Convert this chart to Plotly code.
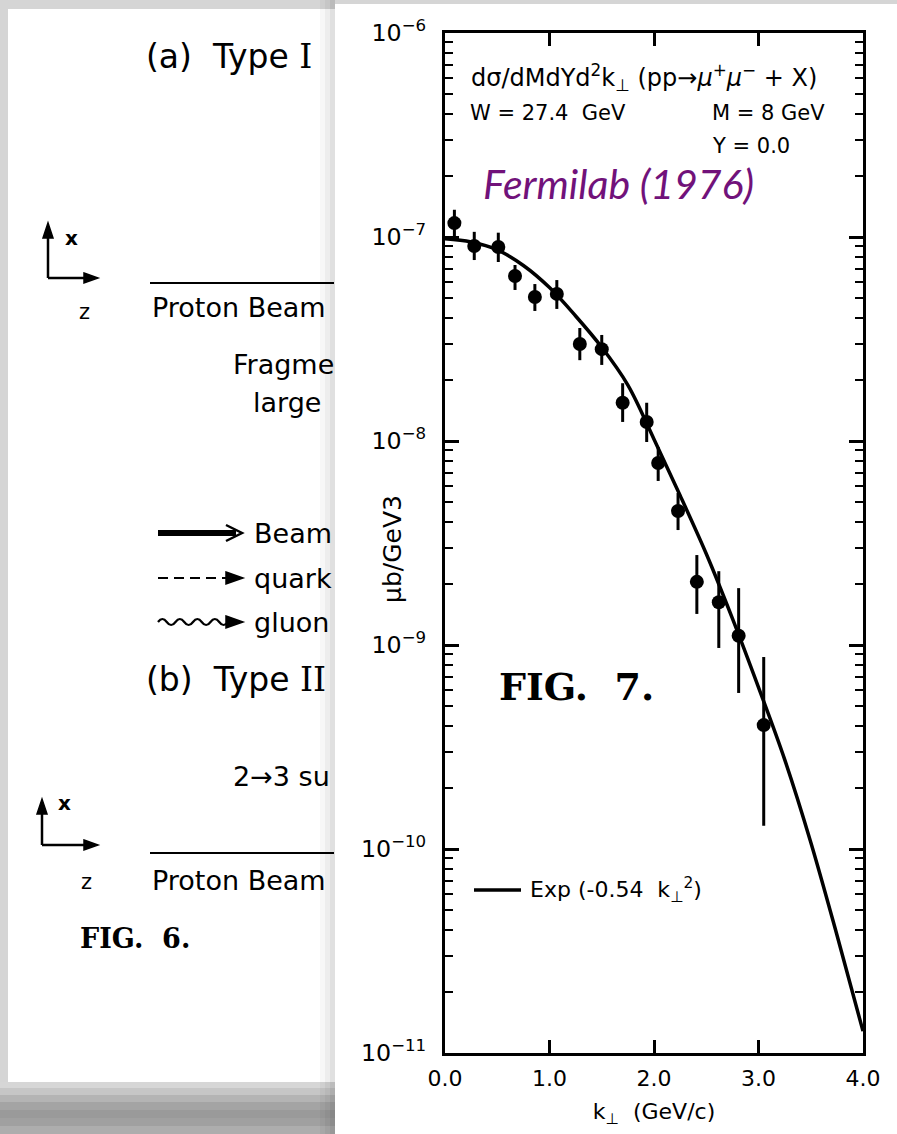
import plotly.graph_objects as go

# ---------------- data ----------------
k_data = [0.09, 0.28, 0.51, 0.67, 0.86, 1.07, 1.29, 1.50, 1.70, 1.93, 2.04, 2.23, 2.41, 2.62, 2.81, 3.05]
sigma = [1.17e-7, 9.03e-8, 8.93e-8, 6.44e-8, 5.08e-8, 5.26e-8, 2.99e-8, 2.82e-8,
         1.54e-8, 1.24e-8, 7.80e-9, 4.54e-9, 2.04e-9, 1.62e-9, 1.11e-9, 4.05e-10]
sigma_hi = [1.36e-7, 1.06e-7, 1.05e-7, 7.29e-8, 5.88e-8, 6.15e-8, 3.58e-8, 3.31e-8,
            1.92e-8, 1.54e-8, 9.35e-9, 5.56e-9, 2.76e-9, 2.30e-9, 1.90e-9, 8.73e-10]
sigma_lo = [1.01e-7, 7.71e-8, 7.54e-8, 5.50e-8, 4.34e-8, 4.44e-8, 2.49e-8, 2.36e-8,
            1.24e-8, 9.89e-9, 6.37e-9, 3.66e-9, 1.42e-9, 9.67e-10, 5.82e-10, 1.30e-10]

k_fit = [0.0, 0.25, 0.5, 0.75, 1.0, 1.25, 1.5, 1.75, 2.0, 2.25, 2.5, 2.75, 3.0, 3.25, 3.5, 3.75, 4.0]
fit = [9.8e-8, 9.45e-8, 8.65e-8, 7.25e-8, 5.65e-8, 4.1e-8, 2.88e-8, 1.88e-8, 1.02e-8,
       5.4e-9, 2.8e-9, 1.35e-9, 6.2e-10, 2.75e-10, 1.08e-10, 3.8e-11, 1.28e-11]

x_ticks = [0, 1, 2, 3, 4]
x_ticktext = ["0.0", "1.0", "2.0", "3.0", "4.0"]

# ---------------- geometry helpers (pixel -> paper) ----------------
W, H = 897, 1134
L, R, T, B = 445, 863, 33, 1053


def X(px):
    return (px - L) / (R - L)


def Y(py):
    return (B - py) / (B - T)


FONT = "DejaVu Sans"
err_plus = [h - v for h, v in zip(sigma_hi, sigma)]
err_minus = [v - l for v, l in zip(sigma, sigma_lo)]

fig = go.Figure()
fig.add_trace(go.Scatter(
    x=k_fit, y=fit, mode="lines", line=dict(color="black", width=3.5, shape="spline"),
    name="Exp (-0.54 k⊥²)", showlegend=False, hoverinfo="skip"))
fig.add_trace(go.Scatter(
    x=k_data, y=sigma, mode="markers",
    marker=dict(color="black", size=14),
    error_y=dict(type="data", symmetric=False, array=err_plus, arrayminus=err_minus,
                 color="black", thickness=3, width=0),
    showlegend=False, name="data"))

shapes = []


def rect(x0, y0, x1, y1, color, layer="below"):
    shapes.append(dict(type="rect", xref="paper", yref="paper", x0=X(x0), x1=X(x1),
                       y0=Y(y0), y1=Y(y1), fillcolor=color, line=dict(width=0), layer=layer))


def seg(x0, y0, x1, y1, w=2.0, dash="solid", layer="above"):
    shapes.append(dict(type="line", xref="paper", yref="paper", x0=X(x0), x1=X(x1),
                       y0=Y(y0), y1=Y(y1), line=dict(color="black", width=w, dash=dash),
                       layer=layer))


def poly(pts, fill=True, w=1.5):
    d = "M " + " L ".join(f"{X(a):.5f},{Y(b):.5f}" for a, b in pts)
    if fill:
        d += " Z"
    shapes.append(dict(type="path", xref="paper", yref="paper", path=d,
                       fillcolor="black" if fill else "rgba(0,0,0,0)",
                       line=dict(color="black", width=w), layer="above"))


# page backgrounds and shadows
rect(8, 9, 336, 1082, "white")
bands = [(1082, 1088, "#d6d6d6"), (1088, 1095, "#c6c6c6"), (1095, 1102, "#b4b4b4"),
         (1102, 1110, "#a4a4a4"), (1110, 1118, "#9a9a9a"), (1118, 1126, "#a0a0a0"),
         (1126, 1134, "#adadad")]
for y0, y1, c in bands:
    rect(0, y0, 336, y1, c)
rect(320, 0, 325, H, "rgba(0,0,0,0.03)")
rect(325, 0, 330, H, "rgba(0,0,0,0.07)")
rect(330, 0, 335, H, "rgba(0,0,0,0.12)")
rect(335, 4, W, H, "white")

# ---- Fig. 6 drawings (left page) ----
# (a) coordinate axes
seg(48, 278, 48, 236, 2.5)
poly([(43, 238), (48, 223), (53, 238)])
seg(48, 278, 86, 278, 2.5)
poly([(84, 273), (98, 278), (84, 283)])
seg(150, 283, 334, 283, 2)
# legend arrows
seg(158, 533, 236, 533, 6)
poly([(226, 525), (242, 533), (226, 541)], fill=False, w=2.5)
seg(158, 578, 228, 578, 2, dash="10px,6px")
poly([(226, 572), (243, 578), (226, 584)])
n = 4
x_start, x_end = 158, 228
step = (x_end - x_start) / n
d = f"M {X(x_start):.5f},{Y(622):.5f}"
for i in range(n):
    xa = x_start + i * step
    d += (f" Q {X(xa + step / 4):.5f},{Y(616):.5f}"
          f" {X(xa + step / 2):.5f},{Y(622):.5f}")
    d += (f" Q {X(xa + 3 * step / 4):.5f},{Y(628):.5f}"
          f" {X(xa + step):.5f},{Y(622):.5f}")
shapes.append(dict(type="path", xref="paper", yref="paper", path=d,
                   line=dict(color="black", width=2.2), layer="above"))
poly([(226, 616), (243, 622), (226, 628)])
# (b) coordinate axes
seg(42, 845, 42, 812, 2.5)
poly([(37, 814), (42, 799), (47, 814)])
seg(42, 845, 86, 845, 2.5)
poly([(84, 840), (98, 845), (84, 850)])
seg(150, 853, 334, 853, 2)
# legend of fit curve inside the plot
seg(474, 890, 521, 890, 3.5)

annotations = []


def txt(s, px, py, size=25, family=FONT, anchor="left", color="black", angle=0):
    annotations.append(dict(text=s, x=X(px), y=Y(py), xref="paper", yref="paper",
                            xanchor=anchor, yanchor="middle", showarrow=False,
                            textangle=angle,
                            font=dict(family=family, size=size, color=color)))


SERIF_I = "<span style='font-family:DejaVu Serif'>I</span>"
txt("(a)  Type " + SERIF_I, 144, 56, 33)
txt("<b>x</b>", 63, 238, 20)
txt("z", 77, 312, 21)
txt("Proton Beam", 150, 307, 27)
txt("Fragme", 231, 365, 27)
txt("large", 251, 402, 27)
txt("Beam", 252, 533, 27)
txt("quark", 252, 578, 27)
txt("gluon", 252, 622, 27)
txt("(b)  Type " + SERIF_I + SERIF_I, 144, 679, 33)
txt("2→3 su", 231, 776, 27)
txt("<b>x</b>", 56, 803, 20)
txt("z", 79, 882, 21)
txt("Proton Beam", 150, 881, 27)
txt("<b>FIG.  6.</b>", 78, 938, 27, family="DejaVu Serif")

# ---- Fig. 7 texts ----
txt("dσ/dMdYd<sup>2</sup>k<sub>⊥</sub> (pp→<i>μ</i><sup>+</sup><i>μ</i><sup>−</sup> + X)", 469, 78, 24)
txt("W = 27.4  GeV", 468, 113, 21)
txt("M = 8 GeV", 710, 113, 21)
txt("Y = 0.0", 710, 146, 21)
txt("<i>Fermilab (1976)</i>", 481, 183, 41, family="Lato", color="#71127a")
txt("<b>FIG.  7.</b>", 497, 686, 38, family="DejaVu Serif")
txt("Exp (-0.54  k<sub>⊥</sub><sup>2</sup>)", 528, 890, 22)
txt("μb/GeV3", 392, 549, 25, anchor="center", angle=-90)

fig.update_layout(
    width=W, height=H,
    margin=dict(l=L, r=W - R, t=T, b=H - B, pad=0),
    paper_bgcolor="#d5d5d5", plot_bgcolor="white",
    shapes=shapes, annotations=annotations, showlegend=False,
    font=dict(family=FONT, size=19, color="black"),
)
fig.update_xaxes(
    range=[0, 4], tickmode="array", tickvals=x_ticks, ticktext=x_ticktext,
    ticks="inside", ticklen=13, tickwidth=2.5, tickcolor="black",
    showline=True, linewidth=3, linecolor="black", mirror="allticks",
    showgrid=False, zeroline=False, ticklabelstandoff=4,
    tickfont=dict(family=FONT, size=22),
    title=dict(text="k<sub>⊥</sub>  (GeV/c)", font=dict(family=FONT, size=22), standoff=14),
)
fig.update_yaxes(
    type="log", range=[-11, -6], dtick=1, exponentformat="power",
    ticks="inside", ticklen=14, tickwidth=2.5, tickcolor="black",
    minor=dict(ticks="inside", ticklen=8, tickwidth=2, tickcolor="black",
               dtick="D1", showgrid=False),
    showline=True, linewidth=3, linecolor="black", mirror="allticks",
    showgrid=False, zeroline=False, ticklabelstandoff=12,
    tickfont=dict(family=FONT, size=19),
)

fig.write_html("out.html")
